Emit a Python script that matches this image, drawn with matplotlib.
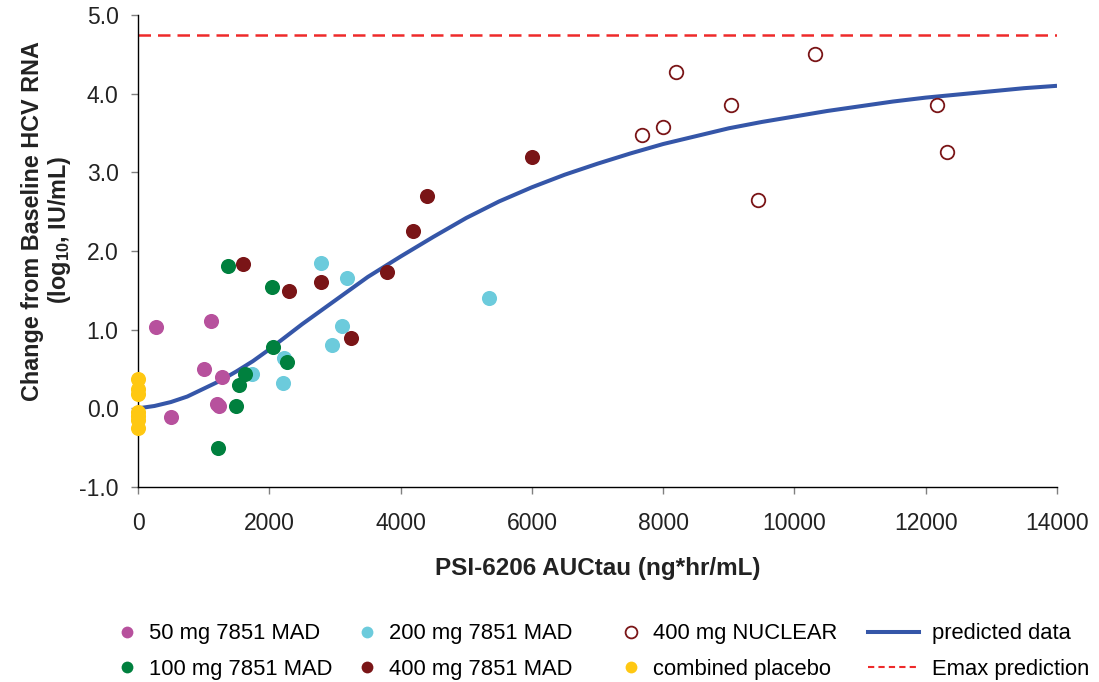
import matplotlib
matplotlib.use("Agg")
import matplotlib.pyplot as plt
from matplotlib.lines import Line2D
import numpy as np

plt.rcParams['font.family'] = ['Liberation Sans', 'DejaVu Sans']
plt.rcParams['mathtext.fontset'] = 'custom'
plt.rcParams['mathtext.rm'] = 'Liberation Sans:bold'
plt.rcParams['mathtext.default'] = 'rm'

# data
mad50_x = [274, 503, 1005, 1112, 1200, 1230, 1284]
mad50_y = [1.03, -0.11, 0.50, 1.11, 0.06, 0.03, 0.40]

mad100_x = [1371, 2036, 2062, 2264, 1630, 1544, 1488, 1224]
mad100_y = [1.81, 1.54, 0.78, 0.59, 0.44, 0.30, 0.03, -0.51]

mad200_x = [1732, 2224, 2209, 2783, 3189, 3103, 2956, 5347]
mad200_y = [0.44, 0.64, 0.32, 1.85, 1.66, 1.05, 0.81, 1.40]

mad400_x = [1605, 2295, 2783, 3245, 3788, 4195, 4397, 6002]
mad400_y = [1.83, 1.49, 1.61, 0.90, 1.73, 2.25, 2.70, 3.19]

nuclear_x = [7683, 7998, 8201, 9034, 9441, 10309, 12177, 12320]
nuclear_y = [3.48, 3.58, 4.28, 3.85, 2.65, 4.50, 3.85, 3.26]

placebo_x = [0, 0, 0, 0, 0, 0, 0]
placebo_y = [0.37, 0.25, 0.18, -0.05, -0.10, -0.15, -0.25]

pred_x = [0, 250, 500, 750, 1000, 1250, 1500, 1750, 2000, 2250, 2500, 2750,
          3000, 3500, 4000, 4500, 5000,
          5500, 6000, 6500, 7000, 7500, 8000, 8500, 9000, 9500, 10000,
          10500, 11000, 11500, 12000, 12500, 13000, 13500, 14000]
pred_y = [0.0, 0.03, 0.08, 0.15, 0.25, 0.35, 0.47, 0.60, 0.75, 0.91, 1.07, 1.22,
          1.37, 1.67, 1.93, 2.18, 2.42,
          2.63, 2.81, 2.97, 3.11, 3.24, 3.36, 3.46, 3.56, 3.64, 3.71,
          3.78, 3.84, 3.90, 3.95, 3.99, 4.03, 4.07, 4.10]

emax_level = 4.75

xticks = [0, 2000, 4000, 6000, 8000, 10000, 12000, 14000]
yticks = [-1.0, 0.0, 1.0, 2.0, 3.0, 4.0, 5.0]

c_pink = '#B7519D'
c_cyan = '#6CCBDC'
c_green = '#00803E'
c_red = '#7A1517'
c_yellow = '#FFC812'
c_blue = '#3556A8'
c_emax = '#EE2A2A'

fig = plt.figure(figsize=(10.99, 6.82), dpi=100)
ax = fig.add_axes([0.1256, 0.2859, 0.8362, 0.6921])

ax.plot(pred_x, pred_y, color=c_blue, lw=2.9, zorder=2, solid_capstyle='butt')
ax.axhline(emax_level, color=c_emax, lw=1.8, ls=(0, (5, 2.8)), zorder=2)

s = 118
ax.scatter(mad50_x, mad50_y, s=s, color=c_pink, lw=0, zorder=3)
ax.scatter(mad200_x, mad200_y, s=s, color=c_cyan, lw=0, zorder=3)
ax.scatter(mad100_x, mad100_y, s=s, color=c_green, lw=0, zorder=3)
ax.scatter(mad400_x, mad400_y, s=s, color=c_red, lw=0, zorder=3)
ax.scatter(nuclear_x, nuclear_y, s=95, facecolors='white', edgecolors=c_red,
           lw=1.3, zorder=3)
ax.scatter(placebo_x, placebo_y, s=s, color=c_yellow, lw=0, zorder=4, clip_on=False)

ax.set_xlim(0, 14000)
ax.set_ylim(-1.0, 5.0)
ax.set_xticks(xticks)
ax.set_yticks(yticks)
ax.set_xticklabels([str(t) for t in xticks])
ax.set_yticklabels(['%.1f' % t for t in yticks])

for sp in ['top', 'right']:
    ax.spines[sp].set_visible(False)
for sp in ['left', 'bottom']:
    ax.spines[sp].set_linewidth(1.0)
    ax.spines[sp].set_color('black')

ax.tick_params(axis='both', direction='out', length=5, width=1.0,
               color='#808080', labelsize=16.5, labelcolor='#222222')
ax.tick_params(axis='x', pad=13)
ax.tick_params(axis='y', pad=9)

ax.set_xlabel('PSI-6206 AUCtau (ng*hr/mL)', fontsize=17.5, fontweight='bold',
              labelpad=16, color='#222222')
fig.text(0.030, 0.676, 'Change from Baseline HCV RNA', rotation=90,
         fontsize=16.8, fontweight='bold', ha='center', va='center', color='#222222')
fig.text(0.054, 0.663, r'(log$_{10}$, IU/mL)', rotation=90,
         fontsize=16.8, fontweight='bold', ha='center', va='center', color='#222222')

def dot(color, face=None):
    return Line2D([], [], ls='none', marker='o', markersize=8.5,
                  markerfacecolor=face if face else color,
                  markeredgecolor=color, markeredgewidth=1.3 if face else 0)

columns = [
    ([dot(c_pink), dot(c_green)], ['50 mg 7851 MAD', '100 mg 7851 MAD'], 0.106, False),
    ([dot(c_cyan), dot(c_red)], ['200 mg 7851 MAD', '400 mg 7851 MAD'], 0.324, False),
    ([dot(c_red, 'white'), dot(c_yellow)], ['400 mg NUCLEAR', 'combined placebo'], 0.564, False),
    ([Line2D([], [], color=c_blue, lw=2.9),
      Line2D([], [], color=c_emax, lw=1.5, ls=(0, (3, 2)))],
     ['predicted data', 'Emax prediction'], 0.790, True),
]
for handles, labels, xpos, is_line in columns:
    fig.legend(handles, labels, loc='upper left', bbox_to_anchor=(xpos, 0.086),
               bbox_transform=fig.transFigure, frameon=False, fontsize=15.8,
               handlelength=2.3 if is_line else 1.0,
               handletextpad=0.6 if is_line else 0.5,
               labelspacing=0.65, borderaxespad=0, borderpad=0)

fig.savefig('out.png', dpi=100)
